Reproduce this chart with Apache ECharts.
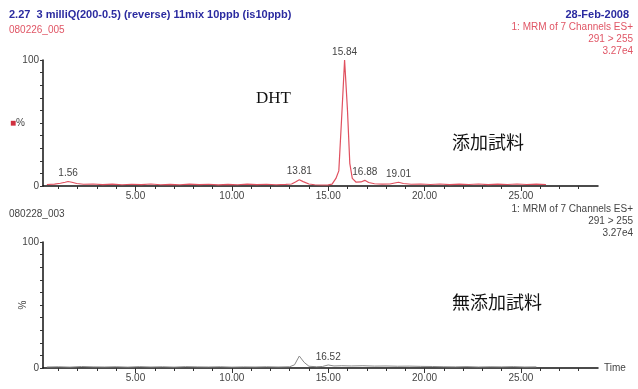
<!DOCTYPE html>
<html><head><meta charset="utf-8">
<script src="https://cdn.jsdelivr.net/npm/echarts@6/dist/echarts.min.js"></script>
<style>html,body{margin:0;padding:0;background:#fff}#c{width:638px;height:389px}</style>
</head><body><div id="c"></div>
<script>
// --- data ---
const topTime = [0.4,0.8,1.1,1.35,1.5,1.7,1.95,2.3,2.8,3.3,3.8,4.3,4.8,5.3,5.8,6.3,6.8,7.3,7.8,8.3,8.8,9.3,9.8,10.3,10.8,11.3,11.8,12.3,12.8,13.1,13.3,13.5,13.7,14.0,14.3,14.7,15.0,15.2,15.4,15.55,15.7,15.85,16.0,16.12,16.25,16.45,16.7,16.9,17.1,17.4,17.8,18.2,18.45,18.65,18.9,19.3,19.8,20.3,20.8,21.3,21.8,22.3,22.8,23.3,23.8,24.3,24.8,25.3,25.8,26.3];
const topValue = [1.2,1.5,2.2,3.0,3.6,3.0,2.0,1.4,1.6,1.1,1.5,1.0,1.4,1.1,1.6,1.0,1.3,1.0,1.5,1.1,1.4,0.9,1.3,1.0,1.5,1.1,1.4,1.0,1.3,1.6,3.2,5.0,3.5,1.6,1.0,0.8,0.9,1.5,6,12,55,100,60,18,6,3.0,3.2,4.5,2.8,1.8,1.5,1.6,2.4,3.0,2.0,1.4,1.6,1.2,1.6,1.1,1.5,1.2,1.6,1.1,1.5,1.2,1.6,1.2,1.5,1.2];
const topPeakTime = [1.5,13.5,15.85,16.9,18.65];
const topPeakValue = [3.6,5.0,100,4.5,3.0];
const topPeakLabel = ['1.56','13.81','15.84','16.88','19.01'];

const botTime = [0.4,1.0,1.6,2.2,2.8,3.4,4.0,4.6,5.2,5.8,6.4,7.0,7.6,8.2,8.8,9.4,10.0,10.6,11.2,11.8,12.4,13.0,13.25,13.5,13.75,14.0,14.4,14.7,15.0,15.3,15.7,16.2,16.8,17.4,18.0,18.6,19.2,19.8,20.4,21.0,21.6,22.2,22.8,23.4,24.0,24.6,25.2,25.8];
const botValue = [0.8,1.0,0.7,1.2,0.9,0.8,1.0,0.7,1.1,0.8,1.0,0.7,1.1,0.9,0.8,1.0,0.7,0.9,0.8,1.0,0.8,1.0,2.5,9.5,4.5,1.4,1.0,1.2,2.4,1.6,1.8,1.6,1.8,1.5,1.6,1.4,1.5,1.3,1.2,1.0,0.9,1.1,0.8,1.0,0.9,1.1,0.8,0.9];
const botPeakTime = [15.0];
const botPeakValue = [2.4];
const botPeakLabel = ['16.52'];

const majorTicks = [5,10,15,20,25];
const minorTicks = [1,2,3,4,5,6,7,8,9,10,11,12,13,14,15,16,17,18,19,20,21,22,23,24,25,26,27,28];
const yLabels = [0,100];
const infoLines = ['1: MRM of 7 Channels ES+','291 > 255','3.27e4'];

// --- build ---
const SANS = 'Liberation Sans, Arial, sans-serif';
const pairs = (a,b) => a.map((t,i)=>[t,b[i]]);
const peaks = (t,v,l) => t.map((x,i)=>({coord:[x,v[i]], value:l[i]}));

function xMain(grid, withName){
  return {gridIndex:grid, type:'value', position:'bottom', min:0.2, max:29,
    axisLine:{show:true, lineStyle:{color:'#111', width:1.5}},
    axisTick:{show:true, customValues:minorTicks, length:3, lineStyle:{color:'#333', width:1}},
    axisLabel:{show:false}, splitLine:{show:false},
    name: withName ? 'Time' : '', nameLocation:'end', nameGap:6,
    nameTextStyle:{fontFamily:SANS, fontSize:10, color:'#444', verticalAlign:'middle'}};
}
function xMajor(grid){
  return {gridIndex:grid, type:'value', position:'bottom', min:0.2, max:29,
    axisLine:{show:false, onZero:false},
    axisTick:{show:true, customValues:majorTicks, length:5, lineStyle:{color:'#333', width:1}},
    axisLabel:{show:true, customValues:majorTicks, formatter:v=>v.toFixed(2), fontFamily:SANS, fontSize:10, color:'#444', margin:5},
    splitLine:{show:false}};
}
function yAx(grid, name, rot, gap){
  return {gridIndex:grid, type:'value', min:0, max:100, interval:10,
    axisLine:{show:true, lineStyle:{color:'#111', width:1.5}},
    axisTick:{show:true, length:3, lineStyle:{color:'#333'}},
    axisLabel:{formatter:v=>yLabels.includes(v)?String(v):'', fontFamily:SANS, fontSize:10, color:'#444', margin:4},
    splitLine:{show:false},
    name:name, nameLocation:'middle', nameRotate:rot, nameGap:gap, nameMoveOverlap:false,
    nameTextStyle:{fontFamily:SANS, fontSize:10, color:'#444',
      rich:{sq:{color:'#d0303f', fontSize:10}}}};
}
const peakLabelStyle = {show:true, position:'top', distance:3, formatter:'{c}', fontFamily:SANS, fontSize:10, color:'#444'};

const infoText = (top0, color) => infoLines.map((s,i)=>({type:'text', right:5, top:top0+i*12,
  style:{text:s, font:'10px Liberation Sans', fill:color}}));

const chart = echarts.init(document.getElementById('c'), null, {renderer:'canvas'});
chart.setOption({
  backgroundColor:'#fff',
  animation:false,
  title:[
    {text:'2.27  3 milliQ(200-0.5) (reverse) 11mix 10ppb (is10ppb)', left:4, top:4,
      textStyle:{fontFamily:SANS, fontSize:11, fontWeight:'bold', color:'#2b2ba0'}},
    {text:'28-Feb-2008', right:4, top:4,
      textStyle:{fontFamily:SANS, fontSize:11, fontWeight:'bold', color:'#2b2ba0'}},
    {text:'080226_005', left:4, top:20, textStyle:{fontFamily:SANS, fontSize:10, fontWeight:'normal', color:'#e05565'}},
    {text:'080228_003', left:4, top:204, textStyle:{fontFamily:SANS, fontSize:10, fontWeight:'normal', color:'#444'}}
  ],
  graphic:[
    ...infoText(22,'#e05565'),
    ...infoText(204,'#444'),
    {type:'text', left:256, top:90, style:{text:'DHT', font:'17px Liberation Serif', fill:'#111'}},
    {type:'text', left:452, top:133, style:{text:'添加試料', font:'18px Noto Sans CJK JP', fill:'#111'}},
    {type:'text', left:452, top:293, style:{text:'無添加試料', font:'18px Noto Sans CJK JP', fill:'#111'}}
  ],
  grid:[
    {left:43, top:60, width:555, height:126, outerBoundsMode:'none', containLabel:false},
    {left:43, top:242, width:555, height:126, outerBoundsMode:'none', containLabel:false}
  ],
  xAxis:[xMain(0,false), xMajor(0), xMain(1,true), xMajor(1)],
  yAxis:[yAx(0,'{sq|■}%',0,18), yAx(1,'%',90,15)],
  series:[
    {type:'line', xAxisIndex:0, yAxisIndex:0, data:pairs(topTime,topValue), showSymbol:false,
      lineStyle:{color:'#e0505f', width:1.2}, itemStyle:{color:'#e0505f'},
      markPoint:{symbol:'circle', symbolSize:0, label:peakLabelStyle, data:peaks(topPeakTime,topPeakValue,topPeakLabel)}},
    {type:'line', xAxisIndex:2, yAxisIndex:1, data:pairs(botTime,botValue), showSymbol:false,
      lineStyle:{color:'#8a8a8a', width:1}, itemStyle:{color:'#8a8a8a'},
      markPoint:{symbol:'circle', symbolSize:0, label:peakLabelStyle, data:peaks(botPeakTime,botPeakValue,botPeakLabel)}}
  ]
});
</script></body></html>
